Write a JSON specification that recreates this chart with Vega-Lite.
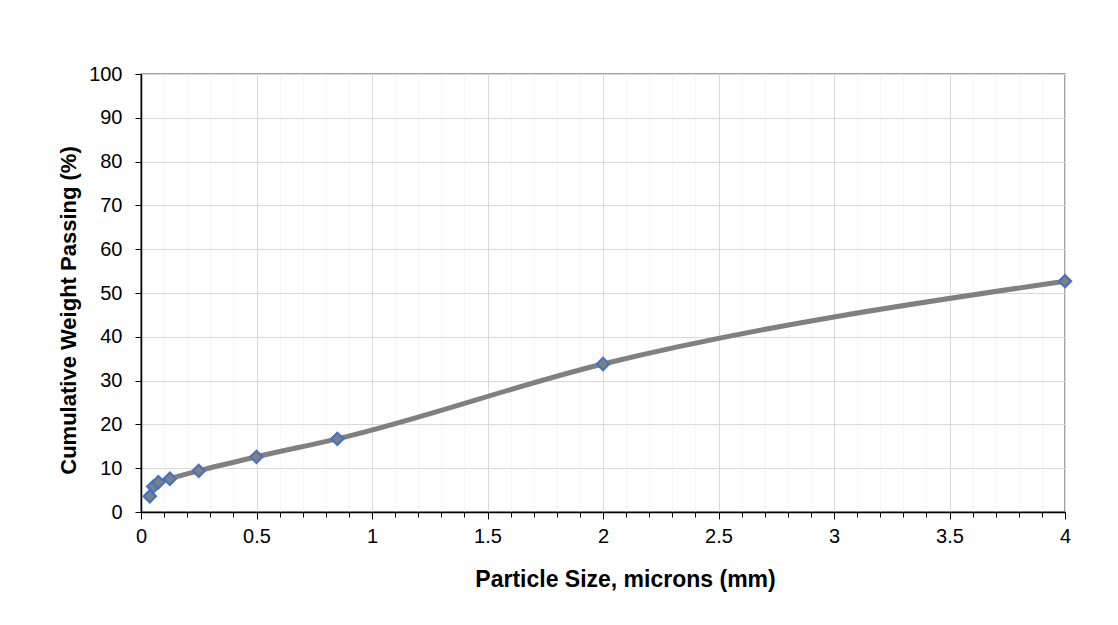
{
  "$schema": "https://vega.github.io/schema/vega-lite/v6.json",
  "width": 924,
  "height": 438,
  "autosize": {"type": "none"},
  "padding": {"left": 141, "top": 74, "right": 53, "bottom": 113},
  "background": "white",
  "config": {
    "view": {"stroke": "#868686", "strokeWidth": 1.5},
    "axis": {
      "labelFont": "Liberation Sans",
      "labelFontSize": 20,
      "labelColor": "black",
      "labelFlush": false,
      "titleFont": "Liberation Sans",
      "titleFontSize": 23,
      "titleFontWeight": "bold",
      "titleColor": "black"
    }
  },
  "data": {
    "values": [
      {"size": 0.038, "passing": 3.6},
      {"size": 0.053, "passing": 5.8},
      {"size": 0.075, "passing": 6.8},
      {"size": 0.125, "passing": 7.6},
      {"size": 0.25, "passing": 9.4},
      {"size": 0.5, "passing": 12.6},
      {"size": 0.85, "passing": 16.7},
      {"size": 2, "passing": 33.8},
      {"size": 4, "passing": 52.7}
    ]
  },
  "resolve": {"axis": {"x": "independent", "y": "independent"}},
  "layer": [
    {
      "mark": {"type": "line", "color": "#808080", "strokeWidth": 5, "interpolate": "monotone"},
      "encoding": {
        "x": {
          "field": "size", "type": "quantitative",
          "scale": {"domain": [0, 4], "nice": false, "zero": true},
          "axis": {
            "orient": "bottom",
            "values": [0.1,0.2,0.3,0.4,0.6,0.7,0.8,0.9,1.1,1.2,1.3,1.4,1.6,1.7,1.8,1.9,2.1,2.2,2.3,2.4,2.6,2.7,2.8,2.9,3.1,3.2,3.3,3.4,3.6,3.7,3.8,3.9],
            "labels": false, "title": null, "domain": false,
            "grid": true, "gridColor": "#eeeeee", "gridDash": [2, 2],
            "tickColor": "black", "tickSize": 5
          }
        },
        "y": {
          "field": "passing", "type": "quantitative",
          "scale": {"domain": [0, 100], "nice": false},
          "axis": {
            "orient": "left",
            "values": [0,10,20,30,40,50,60,70,80,90,100],
            "format": "d",
            "title": "Cumulative Weight Passing (%)",
            "titleFontSize": 22,
            "titleY": 236,
            "grid": true, "gridColor": "#d9d9d9",
            "domainColor": "black", "domainWidth": 1.5,
            "tickColor": "black", "tickSize": 6,
            "labelPadding": 13, "titlePadding": 8
          }
        }
      }
    },
    {
      "mark": {"type": "point", "shape": "diamond", "filled": true, "fill": "#808080", "stroke": "#4472C4", "strokeWidth": 2.2, "size": 150, "opacity": 1},
      "encoding": {
        "x": {
          "field": "size", "type": "quantitative",
          "scale": {"domain": [0, 4], "nice": false},
          "axis": {
            "orient": "bottom",
            "values": [0, 0.5, 1, 1.5, 2, 2.5, 3, 3.5, 4],
            "format": "~g",
            "title": "Particle Size, microns (mm)",
            "titleX": 484,
            "grid": true, "gridColor": "#d9d9d9",
            "domainColor": "black", "domainWidth": 1.5,
            "tickColor": "black", "tickSize": 7,
            "labelPadding": 7, "titlePadding": 22
          }
        },
        "y": {
          "field": "passing", "type": "quantitative",
          "scale": {"domain": [0, 100], "nice": false},
          "axis": null
        }
      }
    }
  ]
}
